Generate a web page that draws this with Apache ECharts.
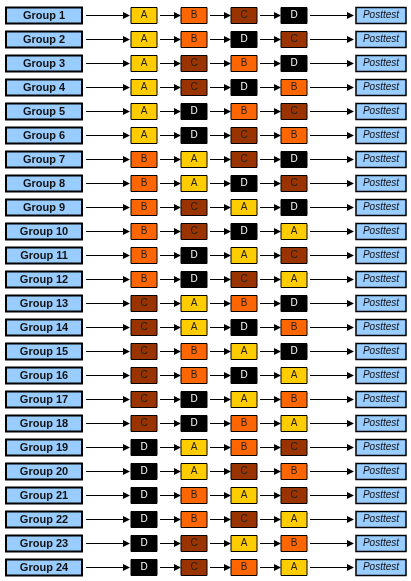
<!DOCTYPE html>
<html>
<head>
<meta charset="utf-8">
<script src="https://cdn.jsdelivr.net/npm/echarts@6/dist/echarts.min.js"></script>
<style>html,body{margin:0;background:#fff}#chart{width:411px;height:581px}</style>
</head>
<body>
<div id="chart"></div>
<script>
// groups and their treatment orders
const groups = ['Group 1','Group 2','Group 3','Group 4','Group 5','Group 6','Group 7','Group 8',
  'Group 9','Group 10','Group 11','Group 12','Group 13','Group 14','Group 15','Group 16',
  'Group 17','Group 18','Group 19','Group 20','Group 21','Group 22','Group 23','Group 24']
const orders = ['ABCD','ABDC','ACBD','ACDB','ADBC','ADCB','BACD','BADC','BCAD','BCDA','BDAC','BDCA',
  'CABD','CADB','CBAD','CBDA','CDAB','CDBA','DABC','DACB','DBAC','DBCA','DCAB','DCBA']
const endLabel = 'Posttest'

const fill = {A: '#FFCC00', B: '#FF6600', C: '#993300', D: '#000000'}
const textCol = {A: '#222', B: '#222', C: '#222', D: '#fff'}
const slotX = [144, 194, 244, 294] // box centres

function arrow(x1, x2, y) {
  return [
    {type: 'line', shape: {x1: x1, y1: y, x2: x2 - 6, y2: y}, style: {stroke: '#000', lineWidth: 1}},
    {type: 'polygon', shape: {points: [[x2 - 7, y - 3.5], [x2, y], [x2 - 7, y + 3.5]]}, style: {fill: '#000'}}
  ]
}

function renderItem(params, api) {
  const i = api.value(0)
  const y = Math.round(api.coord([0, i])[1]) + 0.5
  const order = orders[i]
  const kids = []
  kids.push({type: 'rect', shape: {x: 6, y: y - 8, width: 76, height: 16},
    style: {fill: '#99CCFF', stroke: '#000', lineWidth: 2}})
  kids.push({type: 'text', style: {x: 44, y: y, text: groups[i], align: 'center', verticalAlign: 'middle',
    font: 'bold 11px "Liberation Sans", Arial', fill: '#111'}})
  kids.push(...arrow(86, 130, y))
  for (let k = 0; k < 4; k++) {
    const c = order[k]
    const cx = slotX[k]
    kids.push({type: 'rect', shape: {x: cx - 13, y: y - 8, width: 26, height: 16},
      style: {fill: fill[c], stroke: '#000', lineWidth: 1}})
    kids.push({type: 'text', style: {x: cx, y: y, text: c, align: 'center', verticalAlign: 'middle',
      font: '10px "Liberation Sans", Arial', fill: textCol[c]}})
    if (k < 3) kids.push(...arrow(cx + 16, slotX[k + 1] - 13, y))
  }
  kids.push(...arrow(310, 354, y))
  kids.push({type: 'rect', shape: {x: 356, y: y - 8, width: 50, height: 16},
    style: {fill: '#99CCFF', stroke: '#000', lineWidth: 1.5}})
  kids.push({type: 'text', style: {x: 381, y: y, text: endLabel, align: 'center', verticalAlign: 'middle',
    font: 'italic 10px "Liberation Sans", Arial', fill: '#111'}})
  return {type: 'group', children: kids}
}

const chart = echarts.init(document.getElementById('chart'))
chart.setOption({
  animation: false,
  grid: {left: 0, right: 0, top: 3, bottom: 2},
  xAxis: {type: 'value', min: 0, max: 411, show: false},
  yAxis: {type: 'category', data: groups, inverse: true, show: false},
  series: [{
    type: 'custom',
    renderItem: renderItem,
    data: groups.map((g, i) => [i]),
    encode: {y: 0}
  }]
})
</script>
</body>
</html>
